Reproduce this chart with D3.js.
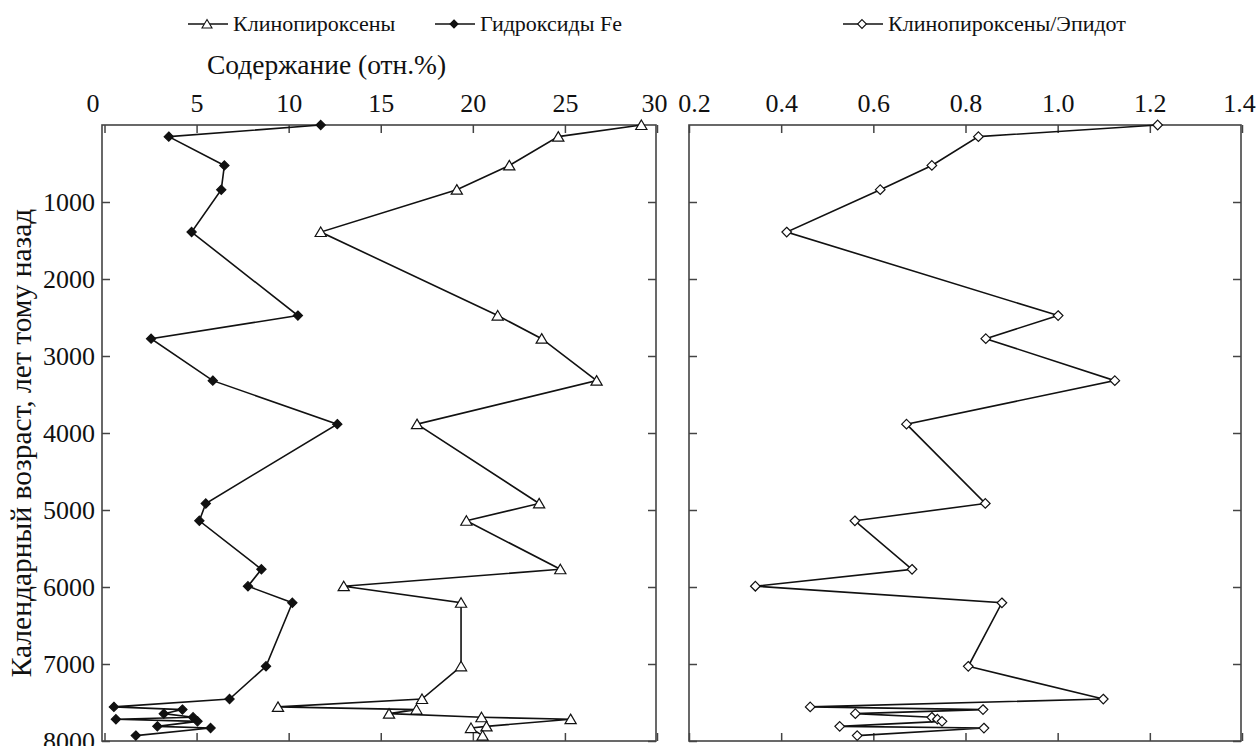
<!DOCTYPE html>
<html>
<head>
<meta charset="utf-8">
<script src="https://cdn.jsdelivr.net/npm/d3@7"></script>
<style>
  body { margin: 0; background: #fff; }
  text { font-family: "Liberation Serif", "Tinos", "DejaVu Serif", "Times New Roman", serif; }
  .tick text { font-size: 26px; fill: #111; }
  .tick line { stroke: #444; stroke-width: 1.5; }
</style>
</head>
<body>
<div id="chart"></div>
<script>
// ages of the samples (years ago), shared by all series
var ages = [0, 151, 525, 840, 1390, 2475, 2775, 3320, 3885, 4915, 5140, 5770, 5990, 6205,
  7030, 7455, 7557, 7592, 7645, 7692, 7717, 7745, 7810, 7832, 7930]
// Гидроксиды Fe, отн.%
var hydroxFe = [11.74, 3.49, 6.51, 6.34, 4.73, 10.5, 2.53, 5.88, 12.64, 5.5, 5.15, 8.52, 7.79, 10.2,
  8.77, 6.79, 0.51, 4.23, 3.22, 4.81, 0.62, 5.05, 2.87, 5.76, 1.7]
// Клинопироксены, отн.% (null = not drawn)
var clinopyrox = [29.15, 24.64, 21.98, 19.13, 11.74, 21.35, 23.74, 26.72, 16.97, 23.6, 19.65, 24.75, 12.99, 19.36,
  19.36, 17.24, 9.42, 16.94, 15.45, 20.47, 25.31, null, 20.74, 19.9, 20.53]
// Клинопироксены/Эпидот
var ratio = [1.217, 0.828, 0.727, 0.615, 0.412, 1.001, 0.844, 1.124, 0.672, 0.843, 0.56, 0.684, 0.344, 0.879,
  0.806, 1.099, 0.463, 0.838, 0.561, 0.727, 0.739, 0.749, 0.527, 0.84, 0.565]

var ageTicks = [1000, 2000, 3000, 4000, 5000, 6000, 7000, 8000]
var leftTicks = [0, 5, 10, 15, 20, 25, 30]
var rightTicks = [0.2, 0.4, 0.6, 0.8, 1.0, 1.2, 1.4]

var width = 1258, height = 746
var yTop = 125, yBottom = 741
var leftBox = [102, 656], rightBox = [689, 1241]
var serif = '"Liberation Serif", "Tinos", "DejaVu Serif", "Times New Roman", serif'

var svg = d3.select("#chart").append("svg")
  .attr("width", width).attr("height", height)
  .attr("font-family", serif)

var y = d3.scaleLinear().domain([0, 8000]).range([yTop, yBottom])
var xL = d3.scaleLinear().domain([0, 30]).range([104.5, 657])
var xR = d3.scaleLinear().domain([0.2, 1.4]).range([689, 1242])

// marker shapes
function triangle(s){ return "M0," + (-s*0.9) + "L" + s + "," + (s*0.8) + "L" + (-s) + "," + (s*0.8) + "Z" }
function diamond(s){ return "M0," + (-s) + "L" + s + ",0L0," + s + "L" + (-s) + ",0Z" }

// d3 axes put a sans-serif font on their group, replace it with the serif
function cleanAxis(a){
  a.attr("font-family", serif).attr("font-size", 26)
  a.selectAll("text").attr("font-family", serif)
  a.select(".domain").remove()
}

function drawPanel(box, x, ticks, fmt, showAgeLabels){
  var g = svg.append("g")
  // top axis with labels
  g.append("g").attr("transform", "translate(0," + yTop + ")")
    .call(d3.axisTop(x).tickValues(ticks).tickSize(-8).tickPadding(13).tickFormat(fmt))
    .call(cleanAxis)
  g.append("g").attr("transform", "translate(0," + yBottom + ")")
    .call(d3.axisBottom(x).tickValues(ticks).tickSize(-8).tickFormat(""))
    .call(cleanAxis)
  g.append("g").attr("transform", "translate(" + box[0] + ",0)")
    .call(d3.axisLeft(y).tickValues(ageTicks).tickSize(-8).tickPadding(7).tickFormat(showAgeLabels ? d3.format("d") : ""))
    .call(cleanAxis)
  g.append("g").attr("transform", "translate(" + box[1] + ",0)")
    .call(d3.axisRight(y).tickValues(ageTicks).tickSize(-8).tickFormat(""))
    .call(cleanAxis)
  g.append("rect")
    .attr("x", box[0]).attr("y", yTop)
    .attr("width", box[1] - box[0]).attr("height", yBottom - yTop)
    .attr("fill", "none").attr("stroke", "#444").attr("stroke-width", 1.6)
  return g
}

var gl = drawPanel(leftBox, xL, leftTicks, d3.format("d"), true)
gl.selectAll(".tick text").filter(d => d === 0).attr("dx", -12)
gl.selectAll(".tick text").filter(d => d === 30).attr("dx", -3)
var gr = drawPanel(rightBox, xR, rightTicks, d3.format(".1f"), false)
gr.selectAll(".tick text").filter(d => d === 0.2).attr("dx", 5)
gr.selectAll(".tick text").filter(d => d === 1.4).attr("dx", -3)

function drawSeries(x, values, shape, size, fill){
  var pts = ages.map((a, i) => ({age: a, v: values[i]})).filter(d => d.v != null)
  var line = d3.line().x(d => x(d.v)).y(d => y(d.age))
  svg.append("path").datum(pts)
    .attr("d", line)
    .attr("fill", "none").attr("stroke", "#111").attr("stroke-width", 1.6)
  svg.append("g").selectAll("path").data(pts).enter().append("path")
    .attr("transform", d => "translate(" + x(d.v) + "," + y(d.age) + ")")
    .attr("d", shape(size))
    .attr("fill", fill).attr("stroke", "#111").attr("stroke-width", 1.2)
}

drawSeries(xL, hydroxFe, diamond, 4.6, "#111")
drawSeries(xL, clinopyrox, triangle, 5.6, "#fff")
drawSeries(xR, ratio, diamond, 4.8, "#fff")

// legend
var legend = [
  {name: "Клинопироксены", x: 188, shape: triangle, size: 5, fill: "#fff"},
  {name: "Гидроксиды Fe", x: 435, shape: diamond, size: 4, fill: "#111"},
  {name: "Клинопироксены/Эпидот", x: 843, shape: diamond, size: 4.4, fill: "#fff"}
]
var lg = svg.append("g").selectAll("g").data(legend).enter().append("g")
  .attr("transform", d => "translate(" + d.x + ",24)")
lg.append("line").attr("x1", 0).attr("x2", 40)
  .attr("stroke", "#111").attr("stroke-width", 1.6)
lg.append("path").attr("transform", "translate(19,0)")
  .attr("d", d => d.shape(d.size))
  .attr("fill", d => d.fill).attr("stroke", "#111").attr("stroke-width", 1.1)
lg.append("text").attr("x", 45).attr("y", 7)
  .attr("font-size", 22).attr("fill", "#111")
  .text(d => d.name)

svg.append("text")
  .attr("x", 207).attr("y", 74)
  .attr("font-size", 27.5).attr("fill", "#111")
  .text("Содержание (отн.%)")

svg.append("text")
  .attr("transform", "translate(31," + 443 + ") rotate(-90)")
  .attr("text-anchor", "middle")
  .attr("font-size", 29.5).attr("fill", "#111")
  .text("Календарный возраст, лет тому назад")
</script>
</body>
</html>
